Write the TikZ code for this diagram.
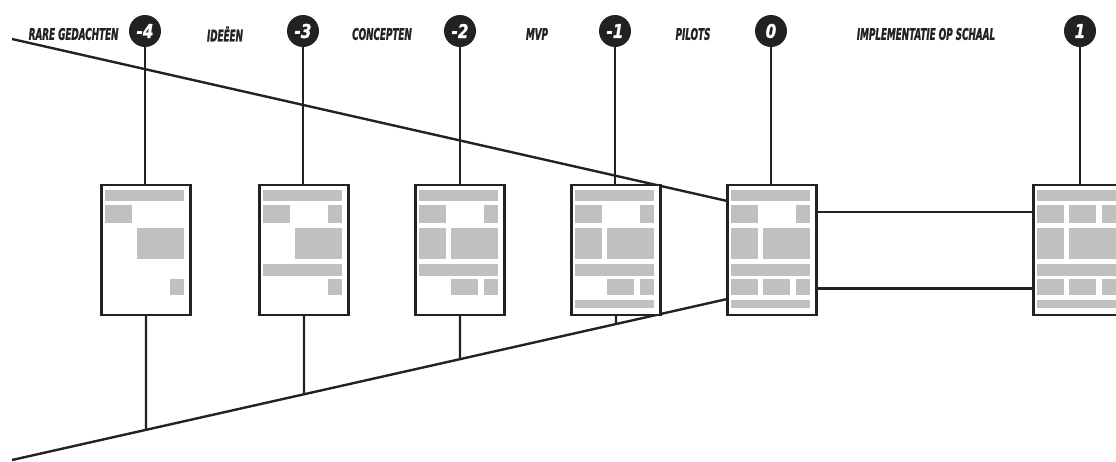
\documentclass[tikz,border=0pt]{standalone}
\usepackage{fontspec}
\newfontfamily\labfont{DejaVu Sans}[FakeStretch=0.55,FakeBold=1.2]
\newfontfamily\numfont{DejaVu Sans}[FakeStretch=0.8,FakeBold=1.2]
\usetikzlibrary{calc}
\definecolor{ink}{HTML}{222222}
\definecolor{blockgray}{HTML}{C0C0C0}
\tikzset{
  pagebox/.style={draw=ink, line width=2.4pt, fill=white, minimum width=89pt, minimum height=130pt, inner sep=0pt},
  numdot/.style={circle, fill=ink, minimum size=32pt, inner sep=0pt, text=white, font=\numfont\bfseries\itshape\fontsize{19}{19}\selectfont},
  steplabel/.style={text=ink, inner sep=0pt, font=\labfont\bfseries\itshape\fontsize{16}{16}\selectfont},
  wire/.style={draw=ink, line width=2.4pt},
}
% block inside a page: box, x1, x2, y1, y2 (from north west corner, downwards)
\newcommand\blk[5]{\fill[blockgray] ($(#1.north west)+(#2,#4)$) rectangle ($(#1.north west)+(#3,#5)$);}
\newcommand\rA[3]{\blk{#1}{5}{32}{#2}{#3}}
\newcommand\rB[3]{\blk{#1}{37}{83.5}{#2}{#3}}
\newcommand\rC[3]{\blk{#1}{69.5}{83.5}{#2}{#3}}
\newcommand\rM[3]{\blk{#1}{36.5}{63.5}{#2}{#3}}
\newcommand\rF[3]{\blk{#1}{5}{83.5}{#2}{#3}}
\begin{document}
\begin{tikzpicture}[x=1pt,y=-1pt]
\useasboundingbox (0,0) rectangle (1116,461);
\clip (0,0) rectangle (1116,461);
% pages
\node[pagebox] (b1) at (146,250) {};
\node[pagebox] (b2) at (304,250) {};
\node[pagebox] (b3) at (460,250) {};
\node[pagebox] (b4) at (616,250) {};
\node[pagebox] (b5) at (772,250) {};
\node[pagebox] (b6) at (1078,250) {};
% circles
\node[numdot] (c1) at (145,31) {-4};
\node[numdot] (c2) at (303,31) {-3};
\node[numdot] (c3) at (460,31) {-2};
\node[numdot] (c4) at (615,31) {-1};
\node[numdot] (c5) at (771,31) {0};
\node[numdot] (c6) at (1080,31) {1};
% labels
\node[steplabel] (l1) at (73.6,34) {RARE GEDACHTEN};
\node[steplabel] (l2) at (225,34) {IDEËEN};
\node[steplabel] (l3) at (382,34) {CONCEPTEN};
\node[steplabel] (l4) at (537,34) {MVP};
\node[steplabel] (l5) at (693,34) {PILOTS};
\node[steplabel] (l6) at (926,34) {IMPLEMENTATIE OP SCHAAL};
% funnel
\coordinate (tl) at (12,39);
\coordinate (bl) at (12,460);
\coordinate (tr) at ($(b5.north west)+(0,17)$);
\coordinate (br) at ($(b5.south west)+(0,-17)$);
\draw[wire] (tl) -- (tr);
\draw[wire] (bl) -- (br);
% stems
\foreach \i in {1,...,6} {\draw[wire] (c\i.south |- c\i.south) -- (c\i.south |- b\i.north);}
\foreach \i in {1,...,4} {\draw[wire] (b\i.south) -- (intersection of bl--br and b\i.south--b\i.north);}
% connectors between pilots and scale
\draw[wire] ($(b5.east)+(0,-38.3)$) -- ($(b6.west)+(0,-38.3)$);
\draw[wire] ($(b5.east)+(0,38.3)$) -- ($(b6.west)+(0,38.3)$);
% redraw page borders over the funnel line
\foreach \i in {1,...,6} {\node[pagebox] at (b\i) {};}
% blocks
\rF{b1}{5.7}{16.7} \rA{b1}{21}{39} \rB{b1}{44.3}{75} \rC{b1}{95}{111}
\rF{b2}{5.7}{16.7} \rA{b2}{21}{39} \rC{b2}{21}{39} \rB{b2}{44.3}{75} \rF{b2}{80}{91.7} \rC{b2}{95}{111}
\rF{b3}{5.7}{16.7} \rA{b3}{21}{39} \rC{b3}{21}{39} \rA{b3}{44.3}{75} \rB{b3}{44.3}{75} \rF{b3}{80}{91.7} \rM{b3}{95}{111} \rC{b3}{95}{111}
\rF{b4}{5.7}{16.7} \rA{b4}{21}{39} \rC{b4}{21}{39} \rA{b4}{44.3}{75} \rB{b4}{44.3}{75} \rF{b4}{80}{91.7} \rM{b4}{95}{111} \rC{b4}{95}{111} \rF{b4}{115.7}{123.7}
\rF{b5}{5.7}{16.7} \rA{b5}{21}{39} \rC{b5}{21}{39} \rA{b5}{44.3}{75} \rB{b5}{44.3}{75} \rF{b5}{80}{91.7} \rA{b5}{95}{111} \rM{b5}{95}{111} \rC{b5}{95}{111} \rF{b5}{115.7}{123.7}
\rF{b6}{5.7}{16.7} \rA{b6}{21}{39} \rM{b6}{21}{39} \rC{b6}{21}{39} \rA{b6}{44.3}{75} \rB{b6}{44.3}{75} \rF{b6}{80}{91.7} \rA{b6}{95}{111} \rM{b6}{95}{111} \rC{b6}{95}{111} \rF{b6}{115.7}{123.7}
\end{tikzpicture}
\end{document}
